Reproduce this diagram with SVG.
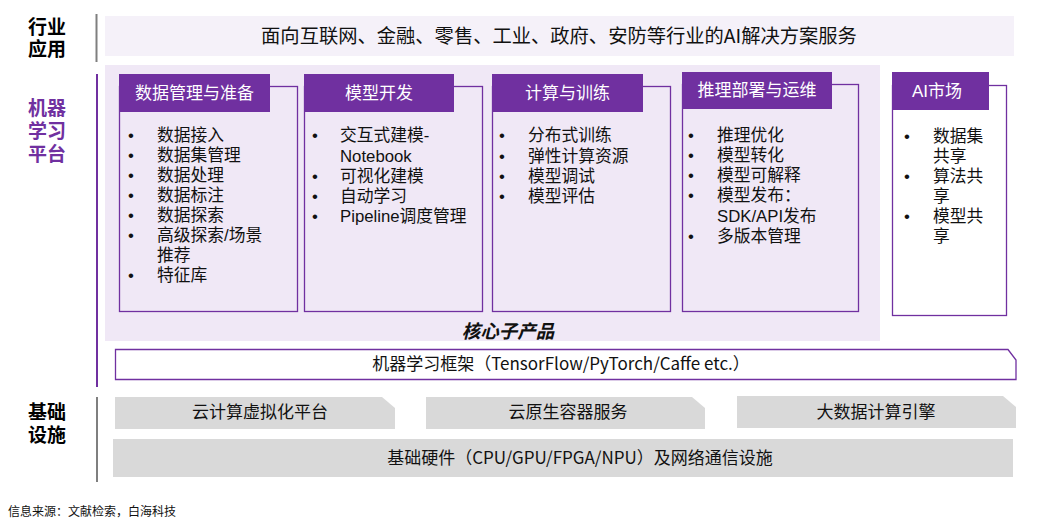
<svg xmlns="http://www.w3.org/2000/svg" width="1042" height="526" viewBox="0 0 1042 526">
<style>
.lbl{font-family:"Noto Sans CJK SC","Noto Sans",sans-serif;font-weight:bold;font-size:19px}
.hdr{fill:#7030A0}
.hdrt{font-family:"Liberation Sans","Noto Sans CJK SC",sans-serif;font-size:17px;fill:#fff;text-anchor:middle}
.box{fill:none;stroke:#7030A0;stroke-width:1.3}
.it{font-family:"Liberation Sans","Noto Sans CJK SC",sans-serif;font-size:16.75px;fill:#111}
.gray{fill:#D9D9D9}
.gt{font-family:"Noto Sans CJK SC","Noto Sans",sans-serif;font-size:17px;fill:#111;text-anchor:middle}
</style>
<rect width="1042" height="526" fill="#fff"/>
<g id="labels">
<text class="lbl"><tspan x="28" y="34">行业</tspan><tspan x="28" y="56">应用</tspan></text>
<text class="lbl" fill="#7030A0"><tspan x="28" y="115">机器</tspan><tspan x="28" y="138">学习</tspan><tspan x="28" y="161">平台</tspan></text>
<text class="lbl"><tspan x="28" y="419">基础</tspan><tspan x="28" y="442">设施</tspan></text>
<line x1="96.5" y1="14" x2="96.5" y2="62" stroke="#7f7f7f" stroke-width="2"/>
<line x1="97" y1="74" x2="97" y2="387" stroke="#7030A0" stroke-width="2"/>
<line x1="97" y1="397" x2="97" y2="482" stroke="#7f7f7f" stroke-width="2"/>
</g>
<g id="industry">
<rect x="105" y="16" width="909" height="40" fill="#F5F1F9"/>
<text x="559" y="43" font-family="Noto Sans CJK SC, sans-serif" font-size="19.3" text-anchor="middle" fill="#111">面向互联网、金融、零售、工业、政府、安防等行业的AI解决方案服务</text>
</g>
<g id="platform">
<rect x="105" y="65" width="775" height="276" fill="#F0E8F6"/>
<text x="508" y="338" font-family="Noto Sans CJK SC, sans-serif" font-size="18.5" font-weight="bold" font-style="italic" text-anchor="middle" fill="#111">核心子产品</text>
</g>
<g id="data-mgmt">
<rect class="box" x="119.5" y="86.5" width="178" height="225"/>
<rect class="hdr" x="119" y="74" width="151" height="38"/>
<text class="hdrt" x="194.5" y="99">数据管理与准备</text>
<g class="it">
<text x="128" y="141">•</text><text x="157" y="141">数据接入</text>
<text x="128" y="161">•</text><text x="157" y="161">数据集管理</text>
<text x="128" y="181">•</text><text x="157" y="181">数据处理</text>
<text x="128" y="201">•</text><text x="157" y="201">数据标注</text>
<text x="128" y="221">•</text><text x="157" y="221">数据探索</text>
<text x="128" y="241">•</text><text x="157" y="241">高级探索/场景</text>
<text x="157" y="261">推荐</text>
<text x="128" y="281">•</text><text x="157" y="281">特征库</text>
</g>
</g>
<g id="model-dev">
<rect class="box" x="304.5" y="86.5" width="178" height="225"/>
<rect class="hdr" x="304" y="74" width="150" height="38"/>
<text class="hdrt" x="379" y="99">模型开发</text>
<g class="it">
<text x="312" y="141">•</text><text x="340" y="141">交互式建模-</text>
<text x="340" y="162">Notebook</text>
<text x="312" y="182">•</text><text x="340" y="182">可视化建模</text>
<text x="312" y="202">•</text><text x="340" y="202">自动学习</text>
<text x="312" y="222">•</text><text x="340" y="222">Pipeline调度管理</text>
</g>
</g>
<g id="training">
<rect class="box" x="492.5" y="86.5" width="178" height="225"/>
<rect class="hdr" x="492" y="74" width="151" height="38"/>
<text class="hdrt" x="567.5" y="99">计算与训练</text>
<g class="it">
<text x="499" y="141">•</text><text x="528" y="141">分布式训练</text>
<text x="499" y="162">•</text><text x="528" y="162">弹性计算资源</text>
<text x="499" y="182">•</text><text x="528" y="182">模型调试</text>
<text x="499" y="202">•</text><text x="528" y="202">模型评估</text>
</g>
</g>
<g id="inference">
<rect class="box" x="682.5" y="84.5" width="176" height="227"/>
<rect class="hdr" x="682" y="72" width="150" height="37"/>
<text class="hdrt" x="757" y="96">推理部署与运维</text>
<g class="it">
<text x="688" y="141">•</text><text x="717" y="141">推理优化</text>
<text x="688" y="161">•</text><text x="717" y="161">模型转化</text>
<text x="688" y="181">•</text><text x="717" y="181">模型可解释</text>
<text x="688" y="201">•</text><text x="717" y="201">模型发布：</text>
<text x="717" y="222">SDK/API发布</text>
<text x="688" y="242">•</text><text x="717" y="242">多版本管理</text>
</g>
</g>
<g id="ai-market">
<rect class="box" x="892.5" y="85.5" width="114" height="230"/>
<rect class="hdr" x="892" y="72" width="97" height="38"/>
<text class="hdrt" x="937" y="97">AI市场</text>
<g class="it">
<text x="904" y="142">•</text><text x="933" y="142">数据集</text>
<text x="933" y="162">共享</text>
<text x="904" y="182">•</text><text x="933" y="182">算法共</text>
<text x="933" y="202">享</text>
<text x="904" y="222">•</text><text x="933" y="222">模型共</text>
<text x="933" y="242">享</text>
</g>
</g>
<g id="framework">
<path d="M115.5 349.5 H1008 L1016 360 V379.5 H115.5 Z" fill="#fff" stroke="#7030A0" stroke-width="1.3"/>
<text x="561" y="370" font-family="Noto Sans CJK SC, sans-serif" font-size="17" text-anchor="middle" fill="#111">机器学习框架（TensorFlow/PyTorch/Caffe etc.）</text>
</g>
<g id="cloud-virt">
<path class="gray" d="M115 397 H382 L395 408 V429 H115 Z"/>
<text class="gt" x="260" y="418">云计算虚拟化平台</text>
</g>
<g id="cloud-native">
<path class="gray" d="M426 397 H692 L705 408 V429 H426 Z"/>
<text class="gt" x="568" y="418">云原生容器服务</text>
</g>
<g id="bigdata">
<path class="gray" d="M737 396 H1003 L1016 407 V428 H737 Z"/>
<text class="gt" x="876" y="418">大数据计算引擎</text>
</g>
<g id="hardware">
<rect class="gray" x="113" y="439" width="900" height="38"/>
<text class="gt" x="580" y="464" font-size="17.3">基础硬件（CPU/GPU/FPGA/NPU）及网络通信设施</text>
</g>
<g id="connectors"></g>
<text x="8" y="516" font-family="Noto Sans CJK SC, sans-serif" font-size="12" fill="#111">信息来源：文献检索，白海科技</text>
</svg>
